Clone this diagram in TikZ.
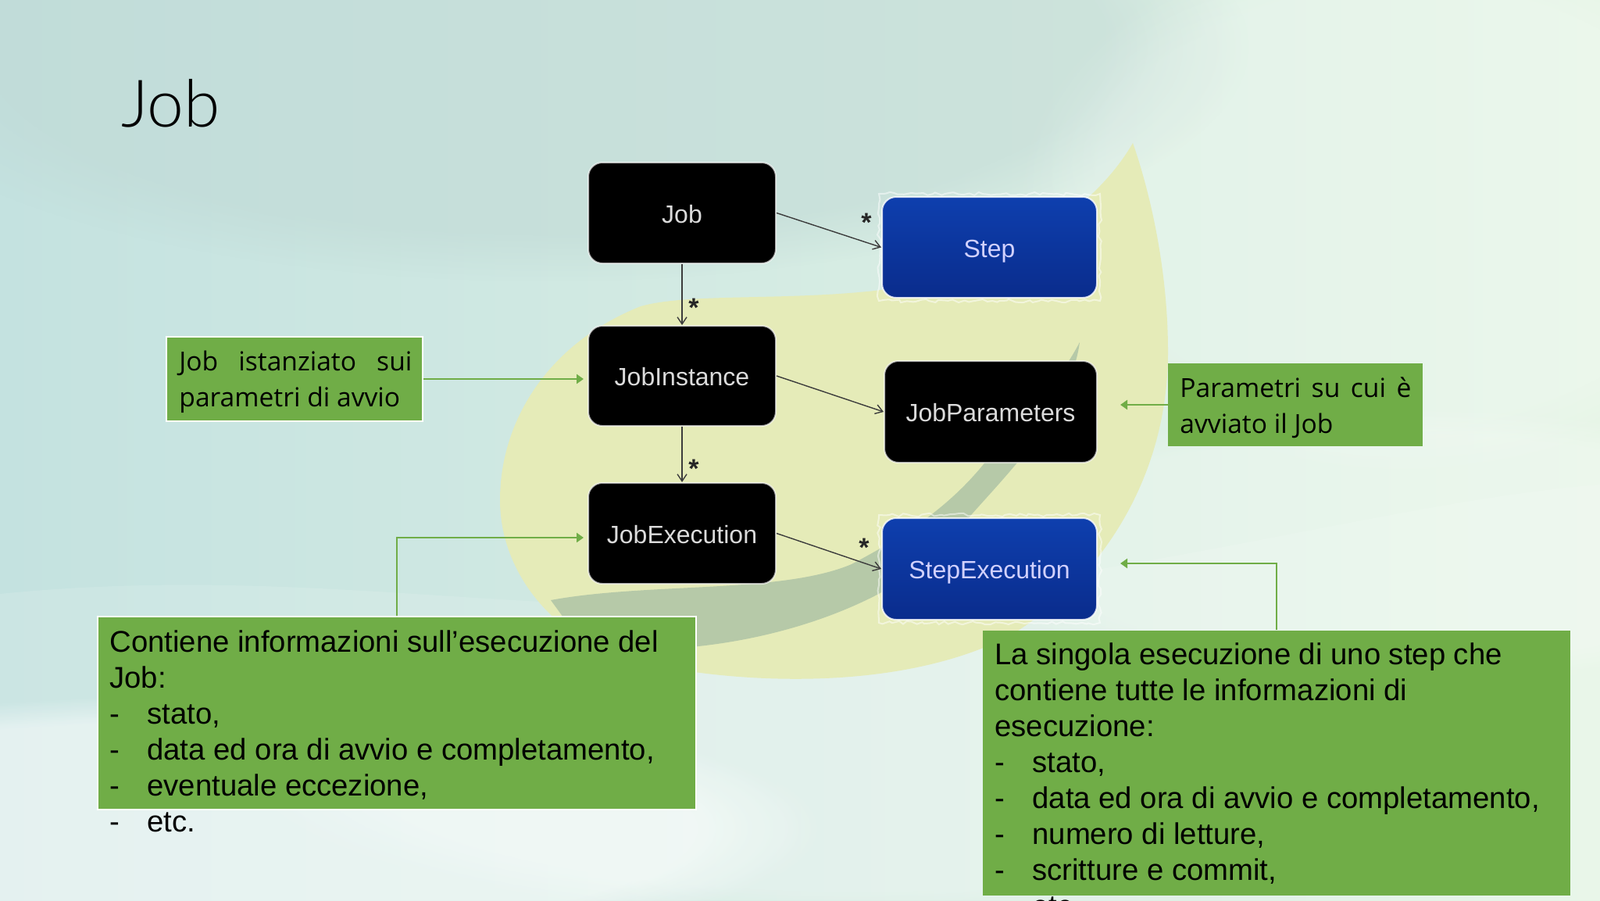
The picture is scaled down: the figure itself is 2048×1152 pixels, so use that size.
\documentclass[tikz,border=0pt]{standalone}
\usepackage{fontspec}
\setmainfont{Liberation Sans}
\newfontfamily\openf{Open Sans}
\newfontfamily\lightf{Lato Light}
\usetikzlibrary{arrows.meta,fadings,calc,decorations.pathmorphing}
\definecolor{notegreen}{HTML}{70AD47}
\definecolor{leaf}{HTML}{E5EBB8}
\definecolor{stem}{HTML}{B6C9A8}
\definecolor{bga}{HTML}{C4E2E0}
\definecolor{bgb}{HTML}{D2EDE8}
\definecolor{bgc}{HTML}{E6F5E6}
\definecolor{bgdark}{HTML}{BFD8D4}
\definecolor{bluetop}{HTML}{0E3FAE}
\definecolor{bluebot}{HTML}{0A2C8C}
\definecolor{lineg}{HTML}{3C3C3C}
\tikzset{
  x=0.5pt,y=-0.5pt,
  blackbox/.style={draw=white,draw opacity=.65,line width=1pt,fill=black,rounded corners=9pt,inner sep=0pt,text=white!86!black,font=\fontsize{16}{19}\selectfont},
  bluebox/.style={draw=white,draw opacity=.8,line width=1pt,rounded corners=9pt,inner sep=0pt,top color=bluetop,bottom color=bluebot,text=blue!18!white,font=\fontsize{16}{19}\selectfont},
  halo/.style={draw=white,line width=1pt,opacity=.5,decorate,decoration={random steps,segment length=3pt,amplitude=1.1pt}},
  notebox/.style={fill=notegreen,draw=white,line width=1.2pt,inner sep=0pt},
  plainnote/.style={fill=notegreen,inner sep=0pt},
  notetext/.style={anchor=north west,inner sep=0pt,align=left,text=black,font=\fontsize{19.15}{23}\selectfont},
  smalltext/.style={anchor=north west,inner sep=0pt,align=left,text=black,font=\openf\fontsize{16.8}{23}\selectfont},
  assoc/.style={draw=lineg,line width=0.7pt,-{Straight Barb[length=4.5pt,width=6pt]}},
  callout/.style={draw=notegreen,line width=1.3pt,-{Triangle[length=4.5pt,width=6pt]}},
  starmark/.style={inner sep=0pt,font=\bfseries\fontsize{17}{17}\selectfont,text=black!85},
  glow/.style={path fading=circle with fuzzy edge 20 percent},
}
\newcommand{\dashitem}[1]{\makebox[24pt][l]{-}#1}
\newcommand{\blab}[1]{\raisebox{-6.4pt}[0pt][0pt]{#1}}
\begin{document}
\begin{tikzpicture}
\useasboundingbox (0,0) rectangle (2048,1152);
\clip (0,0) rectangle (2048,1152);
% background
\shade[left color=bga,middle color=bgb,right color=bgc] (0,0) rectangle (2048,1152);
\fill[bgdark,glow,opacity=.5] (700,60) ellipse (900 and 300);
\fill[white,glow,opacity=.2] (1800,260) ellipse (500 and 350);
\fill[white,glow,opacity=.5] (250,1060) ellipse (800 and 170);
\fill[white,glow,opacity=.25] (1100,980) ellipse (800 and 200);
\fill[white,glow,opacity=.25] (1800,700) ellipse (600 and 180);
\fill[white,opacity=.12] (0,760) .. controls (400,720) and (700,800) .. (1100,770) .. controls (1500,730) and (1800,640) .. (2048,620) -- (2048,1152) -- (0,1152) -- cycle;
% leaf
\fill[leaf] (1450,183) .. controls (1400,270) and (1280,350) .. (1120,372) .. controls (1000,385) and (880,375) .. (820,392)
  .. controls (700,440) and (640,540) .. (640,640) .. controls (640,740) and (720,830) .. (830,850)
  .. controls (950,875) and (1150,885) .. (1290,815) .. controls (1400,750) and (1495,620) .. (1495,450) .. controls (1495,340) and (1470,240) .. (1450,183) -- cycle;
\fill[stem] (705,768) .. controls (830,745) and (1000,760) .. (1090,722) .. controls (1170,680) and (1225,640) .. (1270,580)
  .. controls (1320,530) and (1360,480) .. (1382,438) .. controls (1375,490) and (1340,550) .. (1297,598)
  .. controls (1270,630) and (1250,650) .. (1225,680) .. controls (1180,745) and (1050,810) .. (894,827)
  .. controls (830,832) and (770,815) .. (721,790) -- cycle;
% diagram boxes
\node[blackbox,minimum width=120pt,minimum height=64.5pt] (job) at (873,272.5) {\blab{Job}};
\node[bluebox,minimum width=137.5pt,minimum height=64.5pt] (step) at (1266.5,316.5) {\blab{Step}};
\node[blackbox,minimum width=120pt,minimum height=64pt] (inst) at (873,481) {\blab{JobInstance}};
\node[blackbox,minimum width=136pt,minimum height=65pt] (params) at (1268,527) {\blab{JobParameters}};
\node[blackbox,minimum width=120pt,minimum height=64.5pt] (exec) at (873,682.5) {\blab{JobExecution}};
\node[bluebox,minimum width=137.5pt,minimum height=65pt] (stepexec) at (1266.5,728) {\blab{StepExecution}};
\draw[halo] ([xshift=-1.5pt,yshift=1.5pt]step.north west) rectangle ([xshift=1.5pt,yshift=-1.5pt]step.south east);
\draw[halo] ([xshift=-1.5pt,yshift=1.5pt]stepexec.north west) rectangle ([xshift=1.5pt,yshift=-1.5pt]stepexec.south east);
% associations
\draw[assoc] (job.east) -- (step.west);
\draw[assoc] (job.south) -- (inst.north);
\draw[assoc] (inst.east) -- (params.west);
\draw[assoc] (inst.south) -- (exec.north);
\draw[assoc] (exec.east) -- (stepexec.west);
\node[starmark] (s1) at (1109,285) {*};
\node[starmark] (s2) at (888,394) {*};
\node[starmark] (s3) at (888,600) {*};
\node[starmark] (s4) at (1106,701) {*};
% notes
\node[notebox,minimum width=164pt,minimum height=54pt] (n1) at (377,485) {};
\node[plainnote,minimum width=163pt,minimum height=53pt] (n2) at (1658,518) {};
\node[notebox,minimum width=383pt,minimum height=123.5pt] (n3) at (508,912.5) {};
\node[plainnote,minimum width=376pt,minimum height=169.5pt] (n4) at (1634,976) {};
\coordinate (t1) at (747,485);
\coordinate (t2) at (1434,518);
\coordinate (t3) at (747,688);
\coordinate (t4) at (1434,721);
\draw[callout] (n1.east) -- (t1);
\draw[callout] (n2.west) -- (t2);
\draw[callout] (n3.north) |- (t3);
\draw[callout] (n4.north) |- (t4);
% note texts
\node[smalltext] (tx1) at (229,449) {\makebox[149pt][s]{Job\hfill istanziato\hfill sui}\\parametri di avvio};
\node[smalltext] (tx2) at (1510,482) {\makebox[148pt][s]{Parametri\hfill su\hfill cui\hfill è}\\avviato il Job};
\node[notetext] (tx3) at (140,806) {Contiene informazioni sull’esecuzione del\\Job:\\\dashitem{stato,}\\\dashitem{data ed ora di avvio e completamento,}\\\dashitem{eventuale eccezione,}\\\dashitem{etc.}};
\node[notetext] (tx4) at (1273,822) {La singola esecuzione di uno step che\\contiene tutte le informazioni di\\esecuzione:\\\dashitem{stato,}\\\dashitem{data ed ora di avvio e completamento,}\\\dashitem{numero di letture,}\\\dashitem{scritture e commit,}\\\dashitem{etc.}};
% title
\node[anchor=base west,inner sep=0pt,font=\lightf\fontsize{42}{50}\selectfont,text=black] (title) at (155,162) {Job};
\end{tikzpicture}
\end{document}
